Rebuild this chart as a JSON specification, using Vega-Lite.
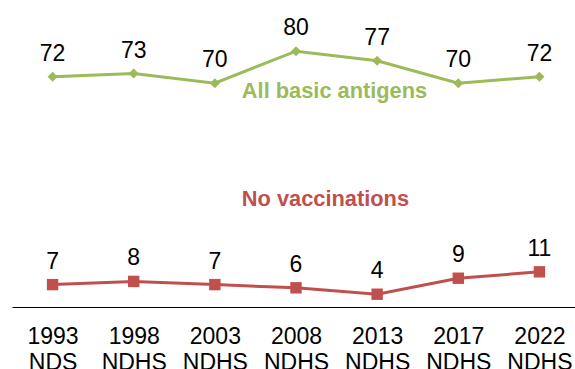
{
  "$schema": "https://vega.github.io/schema/vega-lite/v6.json",
  "width": 568,
  "height": 307,
  "autosize": "none",
  "padding": {"left": 12, "top": 0, "right": 0, "bottom": 62},
  "config": {"view": {"stroke": null}, "font": "Liberation Sans"},
  "datasets": {
    "main": [
      {"survey": "1993 NDS", "series": "All basic antigens", "value": 72},
      {"survey": "1998 NDHS", "series": "All basic antigens", "value": 73},
      {"survey": "2003 NDHS", "series": "All basic antigens", "value": 70},
      {"survey": "2008 NDHS", "series": "All basic antigens", "value": 80},
      {"survey": "2013 NDHS", "series": "All basic antigens", "value": 77},
      {"survey": "2017 NDHS", "series": "All basic antigens", "value": 70},
      {"survey": "2022 NDHS", "series": "All basic antigens", "value": 72},
      {"survey": "1993 NDS", "series": "No vaccinations", "value": 7},
      {"survey": "1998 NDHS", "series": "No vaccinations", "value": 8},
      {"survey": "2003 NDHS", "series": "No vaccinations", "value": 7},
      {"survey": "2008 NDHS", "series": "No vaccinations", "value": 6},
      {"survey": "2013 NDHS", "series": "No vaccinations", "value": 4},
      {"survey": "2017 NDHS", "series": "No vaccinations", "value": 9},
      {"survey": "2022 NDHS", "series": "No vaccinations", "value": 11}
    ],
    "notes": [
      {"survey": "2003 NDHS", "series": "All basic antigens", "value": 65.3, "label": "All basic antigens"},
      {"survey": "2003 NDHS", "series": "No vaccinations", "value": 31.5, "label": "No vaccinations"}
    ]
  },
  "encoding": {
    "x": {
      "field": "survey", "type": "nominal", "sort": null,
      "scale": {"type": "point", "padding": 0.5},
      "axis": {
        "title": null, "ticks": false, "domainColor": "#000000", "domainWidth": 1.2,
        "labelAngle": 0, "labelFontSize": 23, "labelColor": "#000000",
        "labelPadding": 18, "labelLineHeight": 26, "labelBaseline": "top",
        "labelExpr": "split(datum.label, ' ')"
      }
    },
    "y": {
      "field": "value", "type": "quantitative",
      "scale": {"domain": [0, 96], "nice": false, "zero": true},
      "axis": null
    },
    "color": {
      "field": "series", "type": "nominal",
      "scale": {"domain": ["All basic antigens", "No vaccinations"], "range": ["#9BBB59", "#C0504D"]},
      "legend": null
    }
  },
  "layer": [
    {
      "data": {"name": "main"},
      "mark": {"type": "line", "strokeWidth": 3},
      "encoding": {"detail": {"field": "series"}}
    },
    {
      "data": {"name": "main"},
      "transform": [{"filter": "datum.series == 'All basic antigens'"}],
      "mark": {"type": "point", "shape": "diamond", "filled": true, "size": 100, "opacity": 1}
    },
    {
      "data": {"name": "main"},
      "transform": [{"filter": "datum.series == 'No vaccinations'"}],
      "mark": {"type": "point", "shape": "square", "filled": true, "size": 130, "opacity": 1}
    },
    {
      "data": {"name": "main"},
      "mark": {"type": "text", "fontSize": 23, "dy": -16, "baseline": "alphabetic", "color": "#000000"},
      "encoding": {"text": {"field": "value", "type": "quantitative"}, "color": {"value": "#000000"}}
    },
    {
      "data": {"name": "notes"},
      "mark": {"type": "text", "fontSize": 21.8, "fontWeight": "bold", "align": "left", "dx": 27, "baseline": "alphabetic"},
      "encoding": {"text": {"field": "label"}}
    }
  ]
}
